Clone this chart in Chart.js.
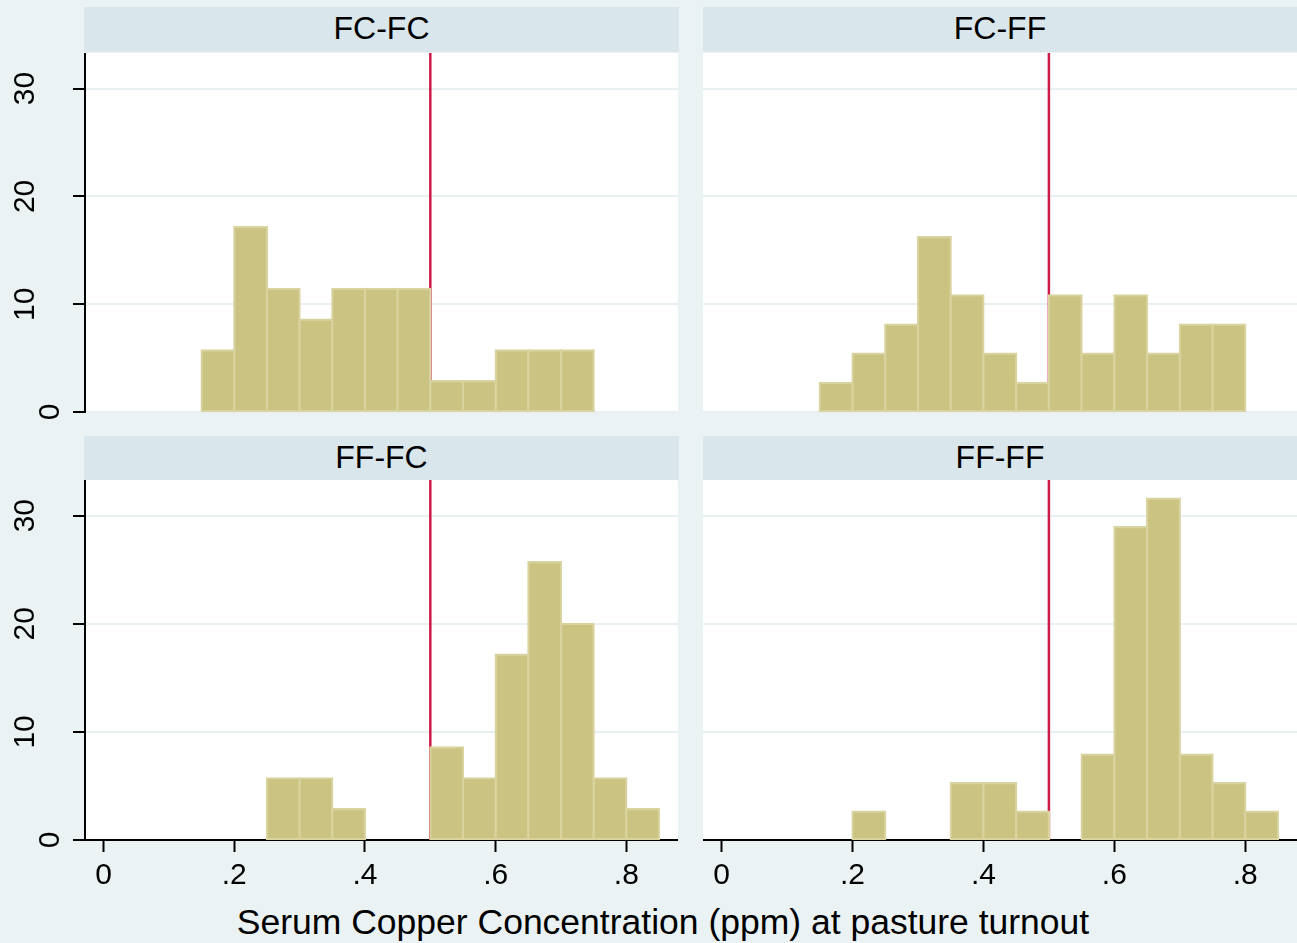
<!DOCTYPE html>
<html>
<head>
<meta charset="utf-8">
<script src="https://cdn.jsdelivr.net/npm/chart.js@4.4.1/dist/chart.umd.min.js"></script>
<style>
  html, body { margin: 0; padding: 0; background: #EAF2F3; }
  body { width: 1297px; height: 943px; position: relative; overflow: hidden;
         font-family: "Liberation Sans", Arial, sans-serif; color: #000; }
  .strip { position: absolute; background: #D9E6EB; font-size: 32px; text-align: center;
           height: 45px; line-height: 42px; white-space: nowrap; }
  canvas { position: absolute; }
  #xtitle { position: absolute; left: 0; width: 1326px; top: 905px; text-align: center;
            font-size: 35.5px; line-height: 35px; white-space: nowrap; }
</style>
</head>
<body>
<div class="strip" style="left:84px;top:7px;width:595px;">FC-FC</div>
<div class="strip" style="left:703px;top:7px;width:594px;">FC-FF</div>
<div class="strip" style="left:84px;top:436px;width:595px;">FF-FC</div>
<div class="strip" style="left:703px;top:436px;width:594px;">FF-FF</div>

<canvas id="c0" width="678" height="380" style="left:0px;top:53px;"></canvas>
<canvas id="c1" width="594" height="380" style="left:703px;top:53px;"></canvas>
<canvas id="c2" width="678" height="420" style="left:0px;top:480px;"></canvas>
<canvas id="c3" width="594" height="420" style="left:703px;top:480px;"></canvas>

<div id="xtitle">Serum Copper Concentration (ppm) at pasture turnout</div>

<script>
// ---- data (percent of animals per 0.05 ppm bin) ----
const binCenters = [0.175, 0.225, 0.275, 0.325, 0.375, 0.425, 0.475, 0.525, 0.575, 0.625, 0.675, 0.725, 0.775, 0.825];
const panelNames = ["FC-FC", "FC-FF", "FF-FC", "FF-FF"];
const fcfc = [5.71, 17.14, 11.43, 8.57, 11.43, 11.43, 11.43, 2.86, 2.86, 5.71, 5.71, 5.71, null, null];
const fcff = [2.70, 5.41, 8.11, 16.22, 10.81, 5.41, 2.70, 10.81, 5.41, 10.81, 5.41, 8.11, 8.11, null];
const fffc = [null, null, 5.71, 5.71, 2.86, null, null, 8.57, 5.71, 17.14, 25.71, 20.00, 5.71, 2.86];
const ffff = [null, 2.63, null, null, 5.26, 5.26, 2.63, null, 7.89, 28.95, 31.58, 7.89, 5.26, 2.63];
const cutoff = 0.5;
const xTicks = [0, 0.2, 0.4, 0.6, 0.8];
const xTickLabels = ["0", ".2", ".4", ".6", ".8"];
const yTicks = [0, 10, 20, 30];
const yTickLabels = ["0", "10", "20", "30"];
const xMin = -0.0284, xMax = 0.879;
const yMin = 0, yMax = 33.3;

// ---- styles ----
const FONT = "Liberation Sans";
const barFill = "#CBC382";
const barEdge = "#D9D3A0";
const refColor = "#CC1B48";
const gridColor = "#E8F0F2";

const plotBg = {
  id: "plotBg",
  beforeDraw(chart) {
    const { ctx, chartArea: a } = chart;
    ctx.save();
    ctx.fillStyle = "#FFFFFF";
    ctx.fillRect(a.left, a.top, a.right - a.left, a.bottom - a.top);
    ctx.restore();
  }
};

function makeChart(id, vals, showY, showX) {
  const pts = [];
  binCenters.forEach((x, i) => { if (vals[i] !== null) pts.push({ x: x, y: vals[i] }); });
  const yScale = {
    min: yMin, max: yMax,
    afterBuildTicks: s => { s.ticks = yTicks.map(v => ({ value: v })); },
    afterFit: s => { s.width = showY ? 85 : 0; s.paddingTop = 0; s.paddingBottom = 0; },
    grid: { color: gridColor, lineWidth: 2, drawTicks: showY, tickLength: 12, tickColor: "#000", tickWidth: 2 },
    border: { display: showY, color: "#000", width: 2 },
    ticks: {
      display: showY, minRotation: 90, maxRotation: 90, crossAlign: "center", padding: 31,
      color: "#000", font: { family: FONT, size: 30, lineHeight: "50px" },
      callback: (v, i) => (yTicks[i] === 0 ? ["", yTickLabels[i]] : yTickLabels[i])
    }
  };
  const xScale = {
    type: "linear", min: xMin, max: xMax, offset: false, display: showX, position: "bottom", z: 1,
    afterBuildTicks: s => { s.ticks = xTicks.map(v => ({ value: v })); },
    afterFit: s => { if (showX) s.height = 60; s.paddingLeft = 0; s.paddingRight = 0; },
    grid: { offset: false, drawOnChartArea: false, drawTicks: true, tickLength: 12, tickColor: "#000", tickWidth: 2 },
    border: { display: true, color: "#000", width: 2 },
    ticks: {
      color: "#000", padding: 6, minRotation: 0, maxRotation: 0, autoSkip: false,
      font: { family: FONT, size: 30 },
      callback: (v, i) => xTickLabels[i]
    }
  };
  return new Chart(document.getElementById(id), {
    type: "bar",
    data: {
      datasets: [
        {
          type: "bar", order: 1, data: pts,
          backgroundColor: barFill, borderColor: barEdge, borderWidth: 2.2, inflateAmount: 1.1,
          borderSkipped: false, barPercentage: 1, categoryPercentage: 1
        },
        {
          type: "line", order: 2,
          data: [{ x: cutoff, y: yMin }, { x: cutoff, y: yMax }],
          borderColor: refColor, borderWidth: 2.5, pointRadius: 0, fill: false
        }
      ]
    },
    options: {
      responsive: false, animation: false, devicePixelRatio: 1,
      layout: { padding: { top: 0, left: 0, right: 0, bottom: showX ? 0 : 21 } },
      plugins: { legend: { display: false }, tooltip: { enabled: false }, title: { display: false } },
      scales: { x: xScale, y: yScale }
    },
    plugins: [plotBg]
  });
}

makeChart("c0", fcfc, true, false);
makeChart("c1", fcff, false, false);
makeChart("c2", fffc, true, true);
makeChart("c3", ffff, false, true);
</script>
</body>
</html>
